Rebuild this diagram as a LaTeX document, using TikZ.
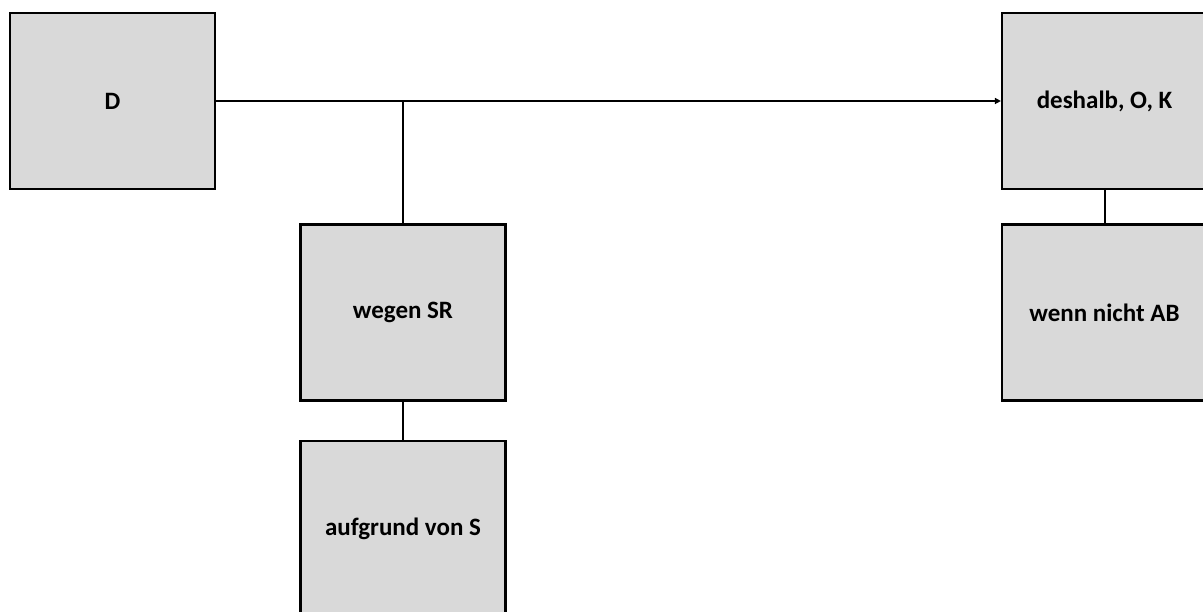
\documentclass[tikz,border=0pt]{standalone}
\usepackage{fontspec}
\setmainfont{Carlito}
\usetikzlibrary{arrows.meta}
\begin{document}
\begin{tikzpicture}[x=1pt,y=-1pt,
  box/.style={draw=black,line width=2.2pt,fill={rgb,255:red,217;green,217;blue,217},minimum width=205pt,minimum height=176pt,inner sep=0pt,font=\bfseries\fontsize{25}{29}\selectfont},
  conn/.style={draw=black,line width=2pt}]
\useasboundingbox (0,0) rectangle (1203,612);
\clip (0,0) rectangle (1203,612);
\node[box] (D) at (112.5,101) {D};
\node[box] (C) at (1104.5,101) {deshalb, O, K};
\node[box] (W) at (403,312.5) {wegen SR};
\node[box] (R) at (1104.5,312.5) {wenn nicht AB};
\node[box] (B) at (403,529) {aufgrund von S};
\draw[conn,-{Triangle[length=6pt,width=6pt]}] (D.east) -- (C.west);
\coordinate (J) at (W.north |- D.east);
\draw[conn] (J) -- (W.north);
\draw[conn] (W.south) -- (B.north);
\draw[conn] (C.south) -- (R.north);
\end{tikzpicture}
\end{document}
